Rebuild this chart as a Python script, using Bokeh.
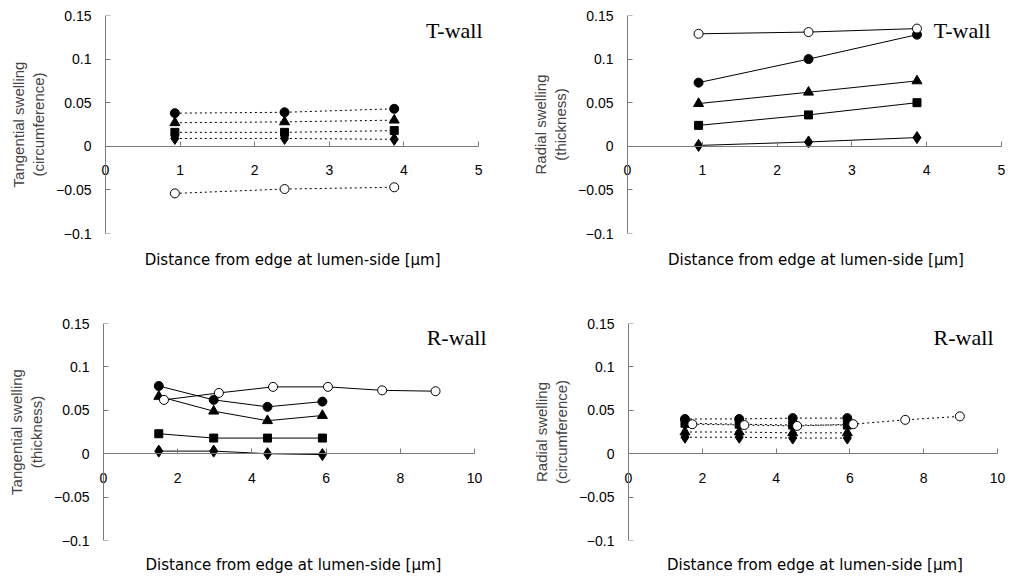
from bokeh.plotting import figure
from bokeh.models import Range1d, FixedTicker, Label, LinearAxis
from bokeh.layouts import column, row
from bokeh.embed import file_html
from bokeh.resources import INLINE

# ---------------- data ----------------
# Panel A: T-wall, tangential swelling (circumference)
ta_x = [0.93, 2.40, 3.87]
ta_open = [-0.054, -0.049, -0.047]
ta_circle = [0.038, 0.039, 0.043]
ta_triangle = [0.027, 0.028, 0.030]
ta_square = [0.016, 0.016, 0.018]
ta_diamond = [0.009, 0.009, 0.008]

# Panel B: T-wall, radial swelling (thickness)
tb_x = [0.95, 2.42, 3.87]
tb_open = [0.129, 0.131, 0.135]
tb_circle = [0.073, 0.100, 0.128]
tb_triangle = [0.049, 0.062, 0.075]
tb_square = [0.024, 0.036, 0.050]
tb_diamond = [0.001, 0.005, 0.010]

# Panel C: R-wall, tangential swelling (thickness)
rc_x = [1.49, 2.97, 4.42, 5.90]
rc_open_x = [1.63, 3.11, 4.57, 6.05, 7.51, 8.95]
rc_open = [0.062, 0.070, 0.077, 0.077, 0.073, 0.072]
rc_circle = [0.078, 0.062, 0.054, 0.060]
rc_triangle = [0.066, 0.049, 0.038, 0.044]
rc_square = [0.023, 0.018, 0.018, 0.018]
rc_diamond = [0.003, 0.003, 0.000, -0.001]

# Panel D: R-wall, radial swelling (circumference)
rd_x = [1.53, 3.00, 4.45, 5.93]
rd_open_x = [1.73, 3.14, 4.57, 6.09, 7.50, 8.98]
rd_open = [0.034, 0.033, 0.032, 0.034, 0.039, 0.043]
rd_circle = [0.040, 0.040, 0.041, 0.041]
rd_triangle = [0.025, 0.025, 0.024, 0.024]
rd_square = [0.035, 0.034, 0.033, 0.033]
rd_diamond = [0.019, 0.019, 0.018, 0.018]

y_ticks = [-0.1, -0.05, 0, 0.05, 0.1, 0.15]
y_tick_labels = ["\u22120.1", "\u22120.05", "0", "0.05", "0.1", "0.15"]
x_ticks_t = [0, 1, 2, 3, 4, 5]
x_ticks_r = [0, 2, 4, 6, 8, 10]

FONT = "Liberation Sans"
AXIS_COLOR = "#7a7a7a"


def make_panel(width, height, borders, xr, xmax, xticks, ylabel, xlabel,
               wall, wall_xoff, wall_y, series, dash, xlabel_standoff):
    left, right, top, bottom = borders
    p = figure(width=width, height=height, output_backend="svg",
               toolbar_location=None,
               x_range=Range1d(xr[0], xr[1]), y_range=Range1d(-0.1, 0.15),
               min_border_left=left, min_border_right=right,
               min_border_top=top, min_border_bottom=bottom)
    p.outline_line_color = None
    p.grid.visible = False

    # x axis drawn through y = 0
    xa = p.xaxis[0]
    xa.fixed_location = 0
    xa.bounds = (0, xmax)
    xa.ticker = FixedTicker(ticks=xticks)
    xa.axis_line_color = AXIS_COLOR
    xa.major_tick_line_color = AXIS_COLOR
    xa.major_tick_in = 5
    xa.major_tick_out = 0
    xa.minor_tick_line_color = None
    xa.major_label_standoff = 19
    xa.major_label_text_font = FONT
    xa.major_label_text_font_size = "14px"
    xa.major_label_text_color = "black"

    # x axis title below the frame
    xt = LinearAxis(ticker=FixedTicker(ticks=[]), axis_line_color=None,
                    major_tick_line_color=None, minor_tick_line_color=None,
                    major_tick_in=0, major_tick_out=0, minor_tick_in=0,
                    minor_tick_out=0, major_label_standoff=0,
                    major_label_text_color=None,
                    axis_label=xlabel, axis_label_standoff=xlabel_standoff,
                    axis_label_text_font="DejaVu Sans",
                    axis_label_text_font_size="15px",
                    axis_label_text_font_style="normal",
                    axis_label_text_color="black")
    p.add_layout(xt, "below")

    # left axis: labels only
    ya = p.yaxis[0]
    ya.ticker = FixedTicker(ticks=y_ticks)
    ya.major_label_overrides = {t: s for t, s in zip(y_ticks, y_tick_labels)}
    ya.axis_line_color = None
    ya.major_tick_line_color = None
    ya.minor_tick_line_color = None
    ya.major_tick_out = 0
    ya.major_tick_in = 0
    ya.major_label_standoff = 9
    ya.major_label_text_font = FONT
    ya.major_label_text_font_size = "14px"
    ya.major_label_text_color = "black"
    ya.axis_label = ylabel
    ya.axis_label_text_font = FONT
    ya.axis_label_text_font_size = "15px"
    ya.axis_label_text_font_style = "normal"
    ya.axis_label_text_line_height = 1.2
    ya.axis_label_standoff = 6

    # y axis line drawn at x = 0 (line and ticks only)
    ya2 = LinearAxis(fixed_location=0, ticker=FixedTicker(ticks=y_ticks),
                     axis_line_color=AXIS_COLOR,
                     major_tick_line_color=AXIS_COLOR,
                     minor_tick_line_color=None,
                     major_tick_in=5, major_tick_out=0,
                     major_label_text_color=None)
    p.add_layout(ya2, "left")

    for xs, ys, marker, fill, size in series:
        p.line(xs, ys, line_color="black", line_width=1, line_dash=dash)
    for xs, ys, marker, fill, size in series:
        p.scatter(xs, ys, marker=marker, size=size, fill_color=fill,
                  line_color="black", line_width=1)

    p.add_layout(Label(x=xmax, y=wall_y, text=wall, text_align="right",
                       text_baseline="middle", x_offset=wall_xoff,
                       text_font="Liberation Serif", text_font_size="22px",
                       text_color="black"))
    return p


def series_list(x, xo, diamond, square, triangle, circle, opn):
    return [
        (x, diamond, "diamond", "black", 12),
        (x, square, "square", "black", 8),
        (x, triangle, "triangle", "black", 10),
        (x, circle, "circle", "black", 9),
        (xo, opn, "circle", "white", 9),
    ]


xlab1 = "Distance from edge at lumen\u2010side  [\u03bcm]"
xlab = "Distance from edge at lumen\u2010side [\u03bcm]"

p1 = make_panel(517, 292, (100, 28, 15, 59), (-0.067, 5.147), 5, x_ticks_t,
                "Tangential swelling\n(circumference)", xlab1, "T-wall", 4, 0.133,
                series_list(ta_x, ta_x, ta_diamond, ta_square, ta_triangle,
                            ta_circle, ta_open), "2 3", 17)
p2 = make_panel(501, 292, (105, 9, 15, 59), (-0.067, 5.107), 5, x_ticks_t,
                "Radial swelling\n(thickness)", xlab, "T-wall", -11, 0.133,
                series_list(tb_x, tb_x, tb_diamond, tb_square, tb_triangle,
                            tb_circle, tb_open), "solid", 17)
p3 = make_panel(517, 284, (98, 29, 30, 34), (-0.135, 10.377), 10, x_ticks_r,
                "Tangential swelling\n(thickness)", xlab, "R-wall", 12, 0.134,
                series_list(rc_x, rc_open_x, rc_diamond, rc_square, rc_triangle,
                            rc_circle, rc_open), "solid", 15)
p4 = make_panel(501, 284, (106, 12, 31, 34), (-0.1355, 10.244), 10, x_ticks_r,
                "Radial swelling\n(circumference)", xlab, "R-wall", -4, 0.134,
                series_list(rd_x, rd_open_x, rd_diamond, rd_square, rd_triangle,
                            rd_circle, rd_open), "2 3", 15)

layout = column(row(p1, p2), row(p3, p4))

open("out.html", "w").write(file_html(layout, INLINE))
